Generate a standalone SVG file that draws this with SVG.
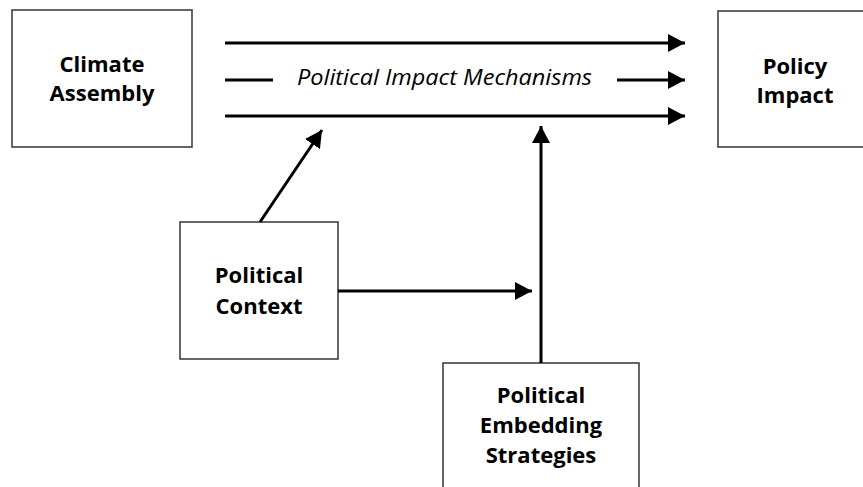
<svg xmlns="http://www.w3.org/2000/svg" width="863" height="487" viewBox="0 0 863 487">
<defs>
<style>
.box{fill:#fff;stroke:#404040;stroke-width:1.6}
.lbl{font-family:"Open Sans","Liberation Sans",sans-serif;font-weight:bold;font-size:22px;fill:#000;text-anchor:middle}
.mech{font-family:"Open Sans","Liberation Sans",sans-serif;font-style:italic;font-size:22px;fill:#000}
.con{stroke:#000;stroke-width:3;fill:none}
</style>
<marker id="ah" markerUnits="userSpaceOnUse" markerWidth="18" markerHeight="18" refX="17" refY="9" orient="auto">
<path d="M0,0 L17,9 L0,18 Z" fill="#000"/>
</marker>
</defs>
<rect width="863" height="487" fill="#fff"/>
<g id="climate-assembly">
<rect class="box" x="12" y="10" width="180" height="137"/>
<text class="lbl" x="102" y="72">Climate</text>
<text class="lbl" x="102" y="101">Assembly</text>
</g>
<g id="policy-impact">
<rect class="box" x="718" y="11" width="160" height="136"/>
<text class="lbl" x="795" y="74">Policy</text>
<text class="lbl" x="795" y="103">Impact</text>
</g>
<g id="political-context">
<rect class="box" x="180" y="222" width="158" height="137"/>
<text class="lbl" x="259" y="283">Political</text>
<text class="lbl" x="259" y="314">Context</text>
</g>
<g id="political-embedding-strategies">
<rect class="box" x="443" y="363" width="196" height="140"/>
<text class="lbl" x="541" y="403">Political</text>
<text class="lbl" x="541" y="433">Embedding</text>
<text class="lbl" x="541" y="463">Strategies</text>
</g>
<g id="mechanisms-label">
<text class="mech" x="297" y="85" textLength="295" lengthAdjust="spacingAndGlyphs">Political Impact Mechanisms</text>
</g>
<g id="connectors">
<line class="con" x1="225" y1="43" x2="685" y2="43" marker-end="url(#ah)"/>
<line class="con" x1="225" y1="80" x2="273" y2="80"/>
<line class="con" x1="617" y1="80" x2="685" y2="80" marker-end="url(#ah)"/>
<line class="con" x1="225" y1="116" x2="685" y2="116" marker-end="url(#ah)"/>
<line class="con" x1="260" y1="222" x2="322" y2="130" marker-end="url(#ah)"/>
<line class="con" x1="338" y1="291" x2="532" y2="291" marker-end="url(#ah)"/>
<line class="con" x1="541" y1="363" x2="541" y2="126" marker-end="url(#ah)"/>
</g>
</svg>
